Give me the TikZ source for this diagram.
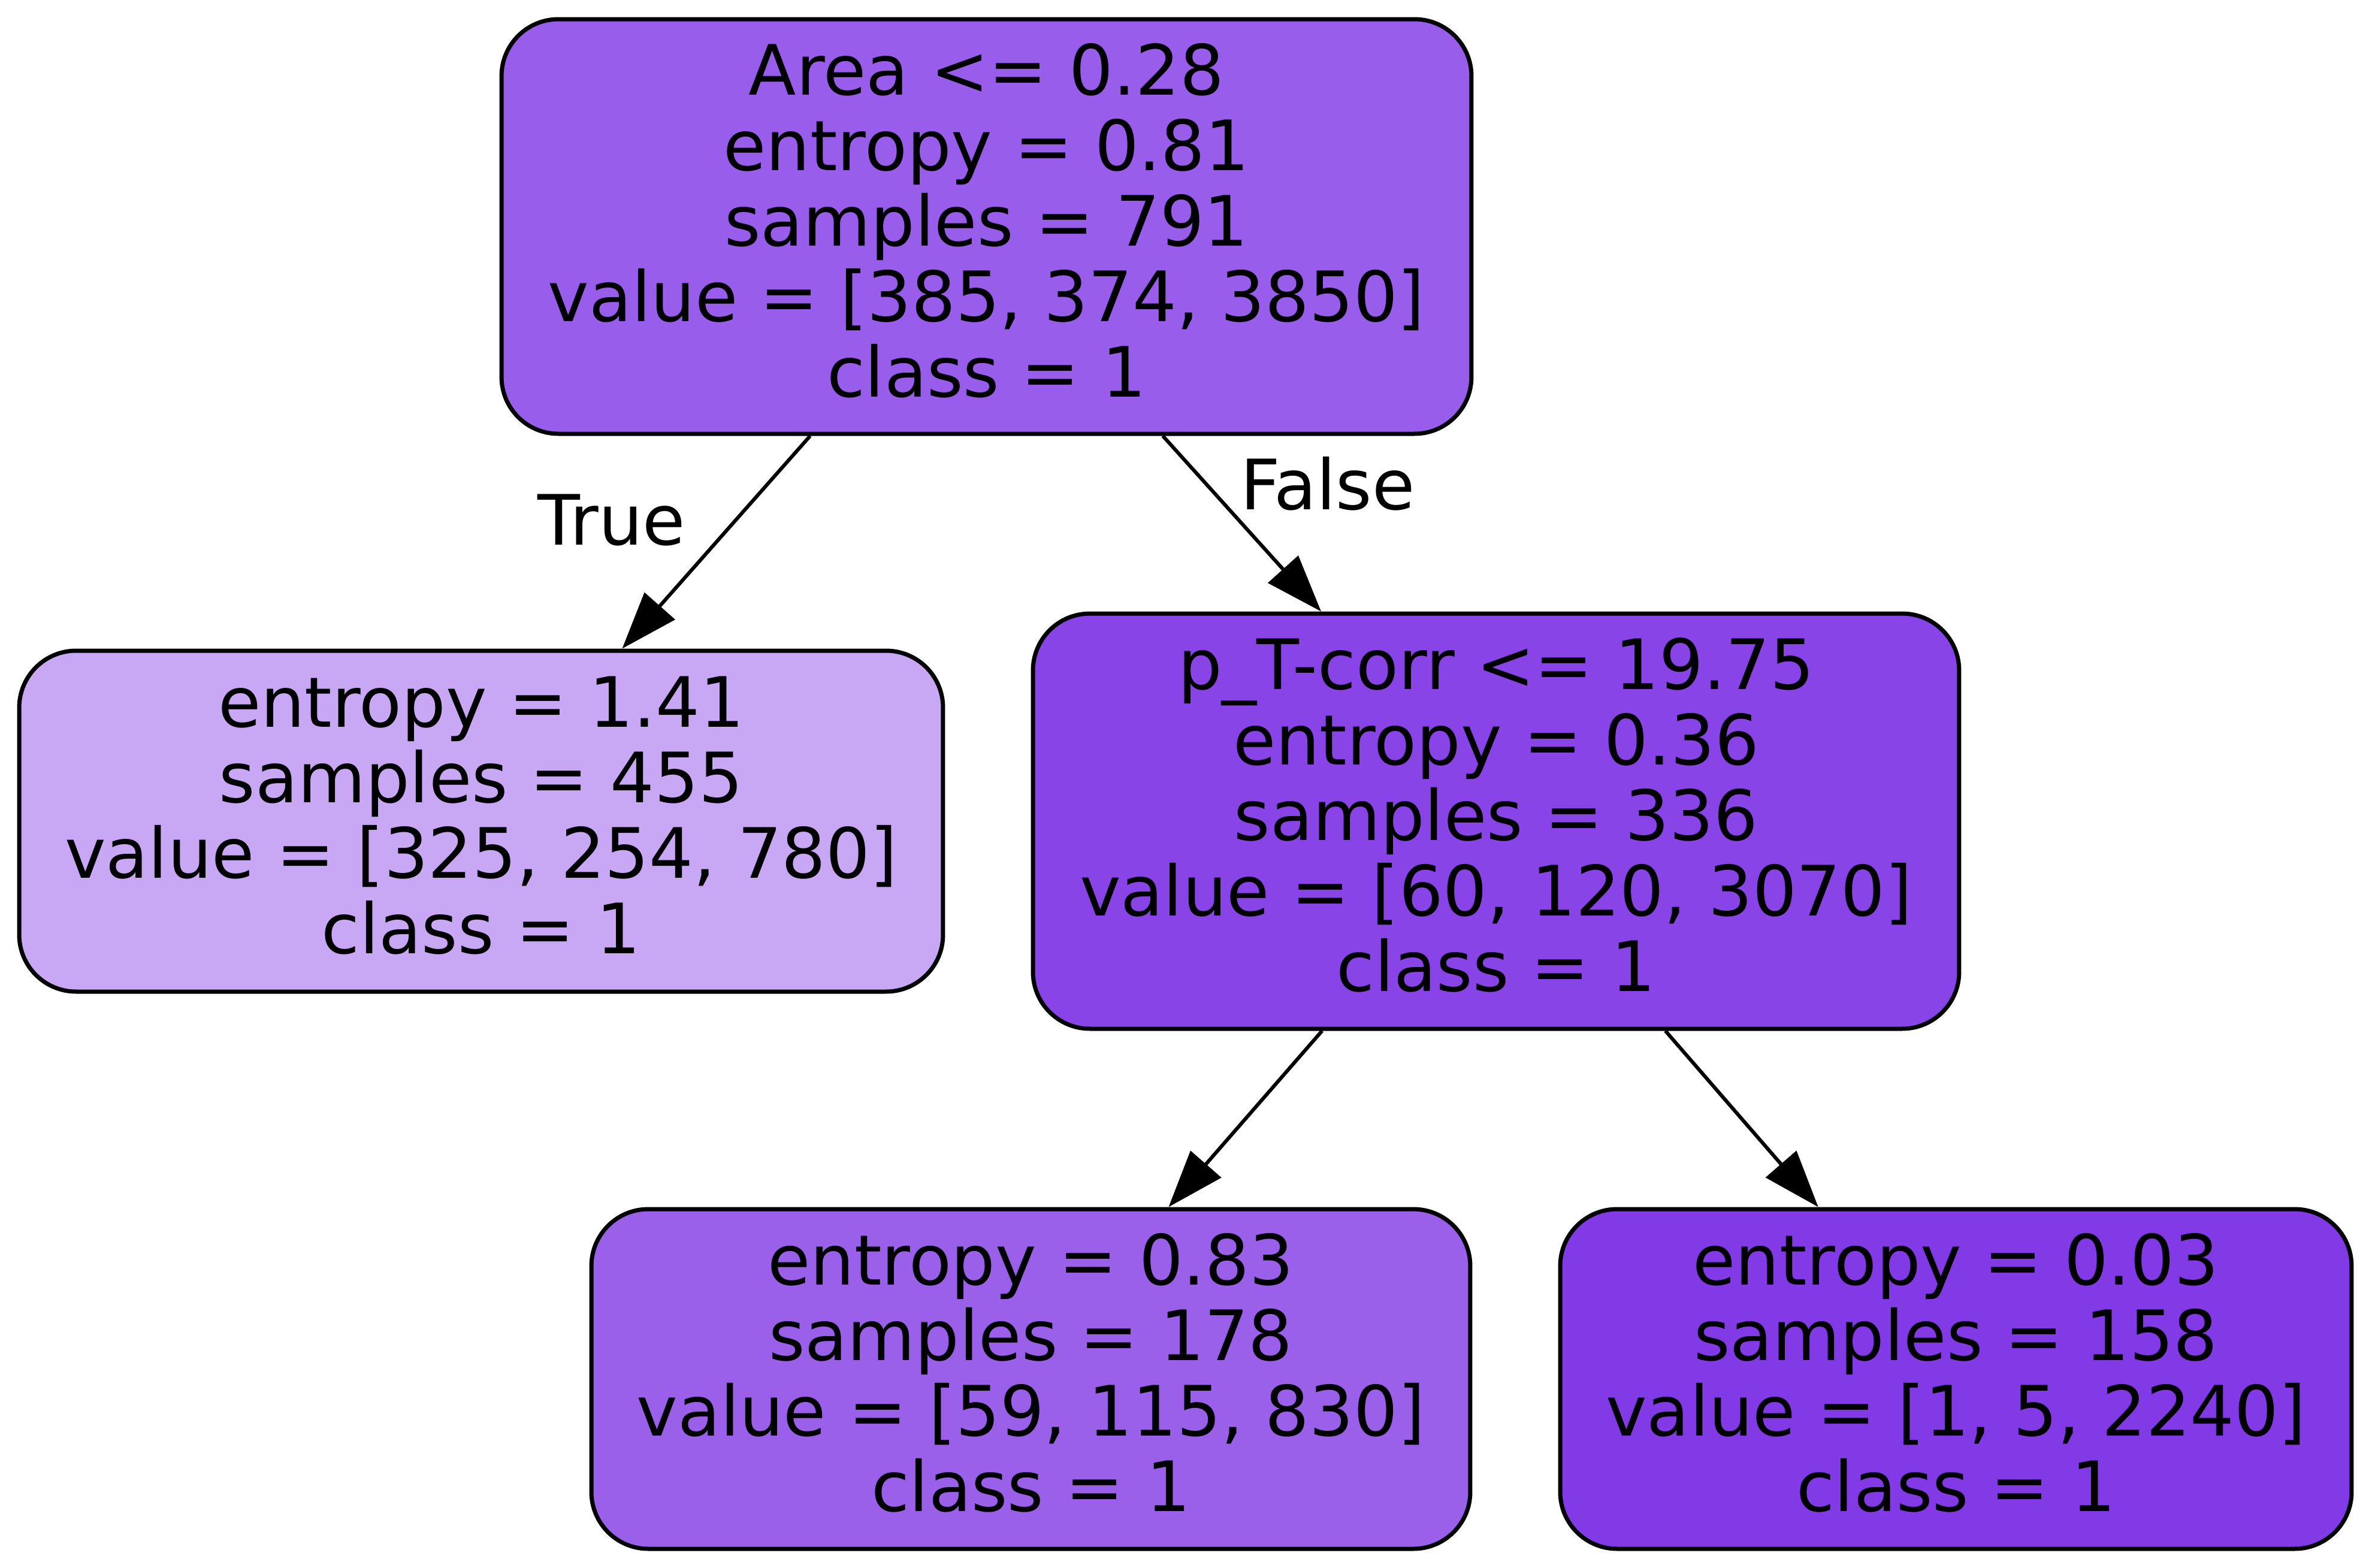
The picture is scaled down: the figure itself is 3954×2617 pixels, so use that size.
\documentclass[tikz,border=0pt]{standalone}
\usepackage{fontspec}
\setmainfont{DejaVu Sans}
\usetikzlibrary{arrows.meta,calc}
\definecolor{cRoot}{RGB}{152,93,234}
\definecolor{cLeafL}{RGB}{200,168,244}
\definecolor{cSplit}{RGB}{136,68,231}
\definecolor{cLeafM}{RGB}{154,96,234}
\definecolor{cLeafR}{RGB}{129,58,229}
\def\mystr{\rule[-3.05pt]{0pt}{12.5pt}}
\begin{document}
\begin{tikzpicture}[x=0.1pt,y=-0.1pt,
  box/.style={draw=black, line width=0.7pt, rounded corners=9.5pt, inner sep=0pt,
    align=center, font=\fontsize{11.6pt}{12.6pt}\selectfont},
  edge/.style={line width=0.6pt, -{Triangle[length=9.5pt,width=6.7pt]}},
  elabel/.style={font=\fontsize{11.6pt}{12.6pt}\selectfont, anchor=base, inner sep=0pt}]
\useasboundingbox (0,0) rectangle (3954,2617);
\node[box, fill=cRoot, minimum width=161.9pt, minimum height=69.2pt] (root) at (1646.5,378)
  {\mystr Area <= 0.28\\\mystr entropy = 0.81\\\mystr samples = 791\\\mystr value = [385, 374, 3850]\\\mystr class = 1};
\node[box, fill=cLeafL, minimum width=154.2pt, minimum height=56.9pt] (leafL) at (803,1370.5)
  {\mystr entropy = 1.41\\\mystr samples = 455\\\mystr value = [325, 254, 780]\\\mystr class = 1};
\node[box, fill=cSplit, minimum width=154.6pt, minimum height=69.3pt] (split) at (2497,1370.5)
  {\mystr p\_T-corr <= 19.75\\\mystr entropy = 0.36\\\mystr samples = 336\\\mystr value = [60, 120, 3070]\\\mystr class = 1};
\node[box, fill=cLeafM, minimum width=146.7pt, minimum height=56.7pt] (leafM) at (1720.5,2301.5)
  {\mystr entropy = 0.83\\\mystr samples = 178\\\mystr value = [59, 115, 830]\\\mystr class = 1};
\node[box, fill=cLeafR, minimum width=132.1pt, minimum height=56.7pt] (leafR) at (3264.5,2301.5)
  {\mystr entropy = 0.03\\\mystr samples = 158\\\mystr value = [1, 5, 2240]\\\mystr class = 1};
\draw[edge] ($(root.south west)!0.319!(root.south east)$) -- ($(leafL.north west)!0.652!(leafL.north east)$);
\draw[edge] ($(root.south west)!0.681!(root.south east)$) -- ($(split.north west)!0.312!(split.north east)$);
\draw[edge] ($(split.south west)!0.313!(split.south east)$) -- ($(leafM.north west)!0.656!(leafM.north east)$);
\draw[edge] ($(split.south west)!0.682!(split.south east)$) -- ($(leafR.north west)!0.327!(leafR.north east)$);
\node[elabel] (lblTrue) at (1021,909) {True};
\node[elabel] (lblFalse) at (2216,850) {False};
\end{tikzpicture}
\end{document}
